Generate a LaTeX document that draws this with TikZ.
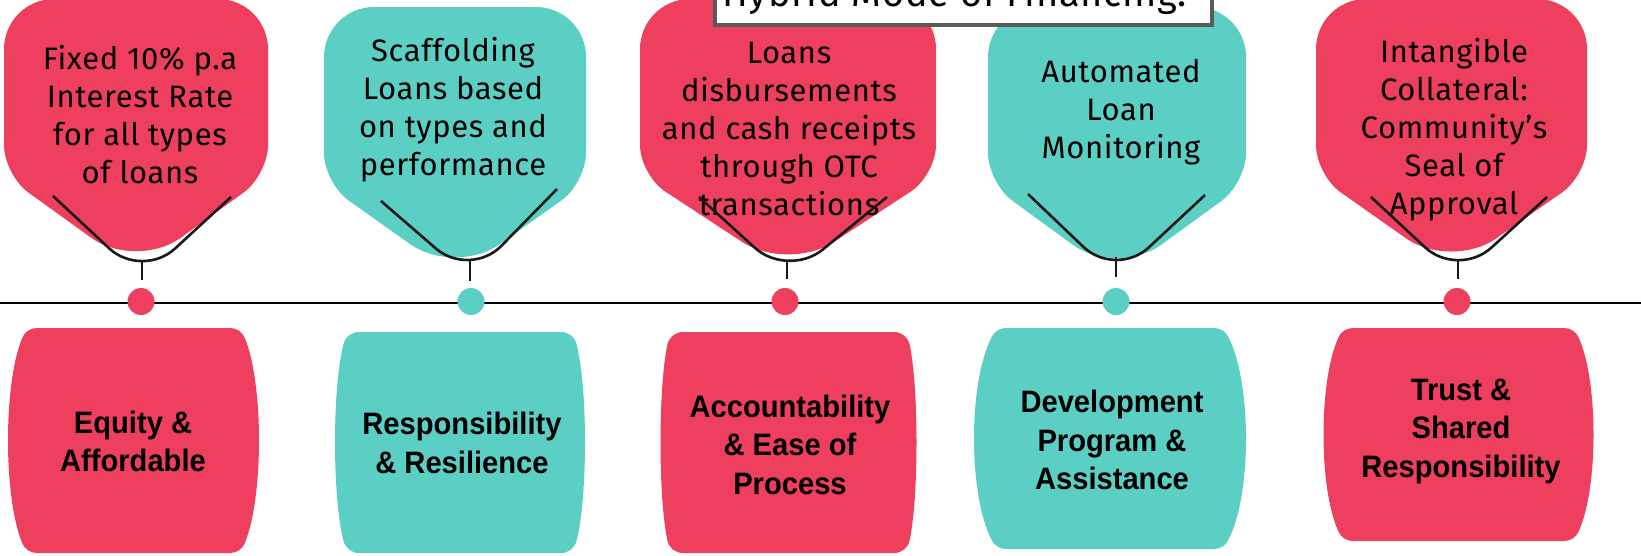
\documentclass[tikz,border=0pt]{standalone}
\usepackage{fontspec}
\setmainfont{Fira Sans}[LetterSpace=2]
\newfontfamily\lblfont{Liberation Sans}[FakeStretch=0.94]
\definecolor{rose}{HTML}{EE3F5E}
\definecolor{aqua}{HTML}{5CCFC5}
\definecolor{framegray}{HTML}{5A5A5A}
% strut: 0.8em above, 0.3em below the baseline
\newcommand\lstrut{\rule[-0.3em]{0pt}{1.1em}}
% barrel-shaped label box: centre x, half top width, half middle width, top y, bottom y, colour
% (drawn as an inset outline stroked with a wide round-joined pen, which rounds the corners)
\newcommand\barrelshape[6]{%
  \pgfmathsetmacro\bxa{#1+#2-6}\pgfmathsetmacro\bxb{#1-#2+6}%
  \pgfmathsetmacro\bxc{#1+#2-6+4/3*(#3-16-#2+6)}\pgfmathsetmacro\bxd{#1-#2+6-4/3*(#3-16-#2+6)}%
  \pgfmathsetmacro\byt{#4+16}\pgfmathsetmacro\byb{#5-16}%
  \pgfmathsetmacro\bkt{\byt+0.22*(\byb-\byt)}\pgfmathsetmacro\bkb{\byb-0.22*(\byb-\byt)}%
  \filldraw[#6, line width=32pt, line join=round]
    (\bxb,\byt) -- (\bxa,\byt) .. controls (\bxc,\bkt) and (\bxc,\bkb) .. (\bxa,\byb)
    -- (\bxb,\byb) .. controls (\bxd,\bkb) and (\bxd,\bkt) .. (\bxb,\byt) -- cycle;}
% callout bubble: left x, right x, top y, knee y, tip x, tip y, colour
\newcommand\bubble[7]{%
  \pgfmathsetmacro\cmx{(#1+#2)/2}%
  \fill[#7] (\cmx,#3) [rounded corners=50pt] -- (#2,#3) [rounded corners=30pt] -- (#2,#4)
    [rounded corners=55pt] -- (#5,#6) [rounded corners=30pt] -- (#1,#4)
    [rounded corners=50pt] -- (#1,#3) [sharp corners] -- cycle;}
\tikzset{
  calltext/.style={font=\fontsize{31}{38}\selectfont, align=center, inner sep=0pt, text=black},
  lbltext/.style={font=\lblfont\bfseries\fontsize{31}{38.5}\selectfont, align=center, inner sep=0pt, text=black},
  titletext/.style={font=\fontsize{38}{46}\selectfont, inner sep=0pt, text=black},
  vline/.style={draw=black!90, line width=2.6pt, rounded corners=45pt},
  stem/.style={draw=black!90, line width=2.8pt},
  axis/.style={draw=black, line width=2.4pt},
  dot/.style={circle, minimum size=27pt, inner sep=0pt},
}
\begin{document}
\begin{tikzpicture}[x=1pt,y=-1pt]
\useasboundingbox (0,0) rectangle (1641,555);

% upper callouts
\bubble{4}{268}{-1}{175}{136}{270}{rose}
\bubble{324}{586}{7}{183}{455}{276}{aqua}
\bubble{640}{936}{-1}{175}{788}{272}{rose}
\bubble{988}{1246}{7}{183}{1117}{277}{aqua}
\bubble{1316}{1587}{-1}{175}{1451}{270}{rose}

\node[calltext] (c1) at (140,118.25) {\lstrut Fixed 10\% p.a\\\lstrut Interest Rate\\\lstrut for all types\\\lstrut of loans};
\node[calltext] (c2) at (453,110.75) {\lstrut Scaffolding\\\lstrut Loans based\\\lstrut on types and\\\lstrut performance};
\node[calltext] (c3) at (789,131.25) {\lstrut Loans\\\lstrut disbursements\\\lstrut and cash receipts\\\lstrut through OTC\\\lstrut transactions};
\node[calltext] (c4) at (1121,112.25) {\lstrut Automated\\\lstrut Loan\\\lstrut Monitoring};
\node[calltext] (c5) at (1454,130.25) {\lstrut Intangible\\\lstrut Collateral:\\\lstrut Community’s\\\lstrut Seal of\\\lstrut Approval};

% title frame
\draw[framegray, line width=4.5pt, fill=white] (715,-80) rectangle (1212,25);
\node[titletext, anchor=base] (title) at (954.5,6) {Hybrid Mode of Financing:};

% V-shaped holders with stems
\coordinate (v1l) at (53,196);   \coordinate (v1c) at (142,279);  \coordinate (v1r) at (231,197);
\coordinate (v2l) at (381,201);  \coordinate (v2c) at (470,278);  \coordinate (v2r) at (557,189);
\coordinate (v3l) at (699,197);  \coordinate (v3c) at (788,278);  \coordinate (v3r) at (887,197);
\coordinate (v4l) at (1028,194); \coordinate (v4c) at (1116,278); \coordinate (v4r) at (1205,195);
\coordinate (v5l) at (1371,197); \coordinate (v5c) at (1458,278); \coordinate (v5r) at (1547,197);
\draw[vline] (v1l) -- (v1c) -- (v1r);
\draw[vline] (v2l) -- (v2c) -- (v2r);
\draw[vline] (v3l) -- (v3c) -- (v3r);
\draw[vline] (v4l) -- (v4c) -- (v4r);
\draw[vline] (v5l) -- (v5c) -- (v5r);

\coordinate (s1a) at (142,260);  \coordinate (s1b) at (142,280);
\coordinate (s2a) at (470,260);  \coordinate (s2b) at (470,281);
\coordinate (s3a) at (787,260);  \coordinate (s3b) at (787,279);
\coordinate (s4a) at (1116,257); \coordinate (s4b) at (1116,277);
\coordinate (s5a) at (1458,260); \coordinate (s5b) at (1458,279);
\draw[stem] (s1a) -- (s1b);
\draw[stem] (s2a) -- (s2b);
\draw[stem] (s3a) -- (s3b);
\draw[stem] (s4a) -- (s4b);
\draw[stem] (s5a) -- (s5b);

% timeline
\coordinate (axL) at (0,303);
\coordinate (axR) at (1641,303);
\draw[axis] (axL) -- (axR);
\node[dot, fill=rose] (d1) at (141,301.5) {};
\node[dot, fill=aqua] (d2) at (471,301.5) {};
\node[dot, fill=rose] (d3) at (785,301.5) {};
\node[dot, fill=aqua] (d4) at (1116,301.5) {};
\node[dot, fill=rose] (d5) at (1457,301.5) {};

% lower value boxes
\barrelshape{133.5}{102.5}{125.5}{328}{553}{rose}
\barrelshape{460}{107}{125}{332}{553}{aqua}
\barrelshape{788.5}{111.5}{128}{332}{553}{rose}
\barrelshape{1110}{110}{136}{328}{549}{aqua}
\barrelshape{1458.5}{111.5}{135}{328}{541}{rose}

\node[lbltext] (b1) at (133,444.75) {\lstrut Equity \&\\\lstrut Affordable};
\node[lbltext] (b2) at (462,446.25) {\lstrut Responsibility\\\lstrut \& Resilience};
\node[lbltext] (b3) at (790,447.75) {\lstrut Accountability\\\lstrut \& Ease of\\\lstrut Process};
\node[lbltext] (b4) at (1112,443.25) {\lstrut Development\\\lstrut Program \&\\\lstrut Assistance};
\node[lbltext] (b5) at (1461,430.75) {\lstrut Trust \&\\\lstrut Shared\\\lstrut Responsibility};
\end{tikzpicture}
\end{document}
